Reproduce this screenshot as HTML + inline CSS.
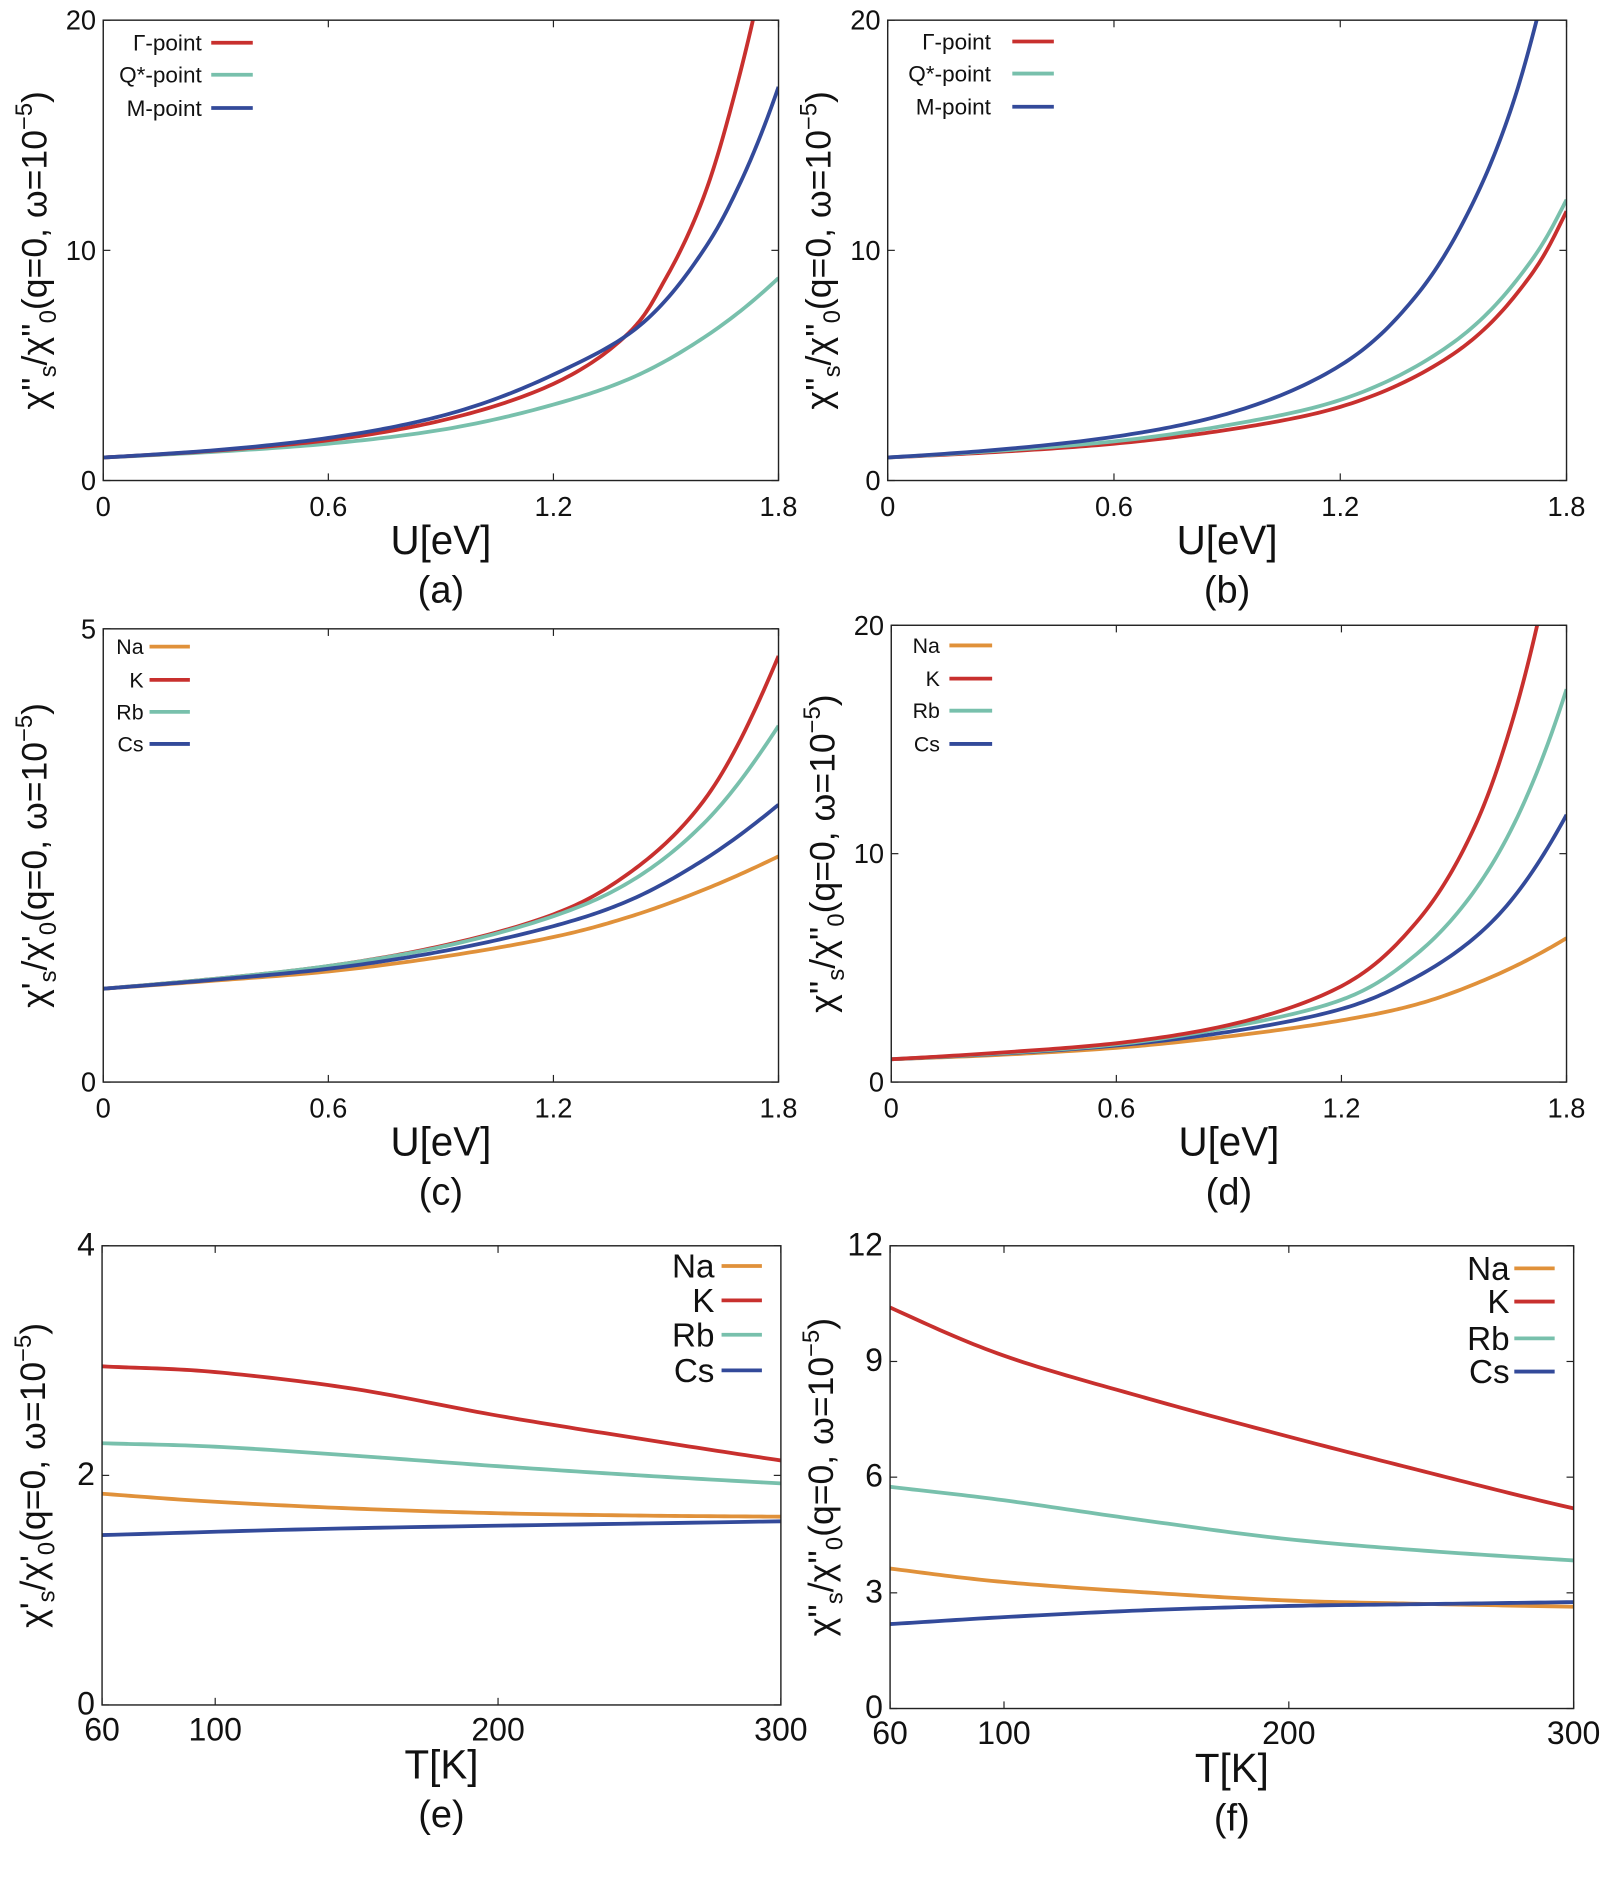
<!DOCTYPE html>
<html><head><meta charset="utf-8"><style>
html,body{margin:0;padding:0;background:#fff;}
svg{display:block;}
text{font-family:"Liberation Sans Narrow","Liberation Sans",sans-serif;fill:#111;}
</style></head><body>
<svg id="s" width="1614" height="1877" viewBox="0 0 1360 1582" preserveAspectRatio="none" xmlns="http://www.w3.org/2000/svg"></svg>
<script>
var S=document.getElementById('s'),NS='http://www.w3.org/2000/svg';
function el(t,a,txt){var e=document.createElementNS(NS,t);for(var k in a)e.setAttribute(k,a[k]);if(txt!==undefined)e.textContent=txt;S.appendChild(e);return e;}
var C={r:'#c8302e',g:'#78c0ac',b:'#334a9a',o:'#e0913a'};
function dense(p){var q=p.map(function(a){return [a[0],Math.log(a[1])]}),out=[];
 for(var i=0;i<q.length-1;i++){var p0=q[i-1]||[2*q[i][0]-q[i+1][0],2*q[i][1]-q[i+1][1]],p1=q[i],p2=q[i+1],p3=q[i+2]||[2*q[i+1][0]-q[i][0],2*q[i+1][1]-q[i][1]];
  for(var k=0;k<20;k++){var t=k/20,t2=t*t,t3=t2*t;
   var f=function(a,b,c,d){return 0.5*((2*b)+(-a+c)*t+(2*a-5*b+4*c-d)*t2+(-a+3*b-3*c+d)*t3)};
   out.push([f(p0[0],p1[0],p2[0],p3[0]),Math.exp(f(p0[1],p1[1],p2[1],p3[1]))]);}}
 out.push(p[p.length-1]);return out;}
function panel(P){
 var X=function(v){return P.x0+(v-P.xmin)/(P.xmax-P.xmin)*(P.x1-P.x0)},Y=function(v){return P.y1-(v-P.ymin)/(P.ymax-P.ymin)*(P.y1-P.y0)};
 var cp=document.createElementNS(NS,'clipPath');cp.setAttribute('id','c'+P.id);var r=document.createElementNS(NS,'rect');r.setAttribute('x',P.x0);r.setAttribute('y',P.y0);r.setAttribute('width',P.x1-P.x0);r.setAttribute('height',P.y1-P.y0);cp.appendChild(r);S.appendChild(cp);
 P.xt.forEach(function(v){var x=X(v);el('line',{x1:x,x2:x,y1:P.y1,y2:P.y1-6,stroke:'#222','stroke-width':1});el('line',{x1:x,x2:x,y1:P.y0,y2:P.y0+6,stroke:'#222','stroke-width':1});
  el('text',{x:x,y:P.y1+30,'font-size':P.tf,'text-anchor':'middle'},P.xl?P.xl(v):v);});
 P.yt.forEach(function(v){var y=Y(v);el('line',{x1:P.x0,x2:P.x0+6,y1:y,y2:y,stroke:'#222','stroke-width':1});el('line',{x1:P.x1,x2:P.x1-6,y1:y,y2:y,stroke:'#222','stroke-width':1});
  el('text',{x:P.x0-6,y:y+8,'font-size':P.tf,'text-anchor':'end'},v);});
 P.series.forEach(function(s){var pts=dense(s.p).map(function(q){return X(q[0]).toFixed(2)+','+Y(q[1]).toFixed(2)});
  el('polyline',{points:pts.join(' '),fill:'none',stroke:C[s.c],'stroke-width':3.2,'stroke-linejoin':'round','clip-path':'url(#c'+P.id+')'});});
 el('rect',{x:P.x0,y:P.y0,width:P.x1-P.x0,height:P.y1-P.y0,fill:'none',stroke:'#222','stroke-width':1.2});
 P.leg.forEach(function(l,i){var y=P.ly[i];el('text',{x:P.lx,y:y+P.lf*0.35,'font-size':P.lf,'text-anchor':'end'},l[0]);
  el('line',{x1:P.ll[0],x2:P.ll[1],y1:y,y2:y,stroke:C[l[1]],'stroke-width':3.2});});
 el('text',{x:(P.x0+P.x1)/2,y:P.y1+62,'font-size':34,'text-anchor':'middle'},P.xlab);
 el('text',{x:(P.x0+P.x1)/2,y:P.y1+103,'font-size':32,'text-anchor':'middle'},P.pl);
 var cy=(P.y0+P.y1)/2,lx=P.x0-48;
 var t=el('text',{x:0,y:0,'font-size':30,'text-anchor':'middle',transform:'translate('+lx+','+cy+') rotate(-90)'});
 t.innerHTML='χ<tspan font-size="30">'+P.pr+'</tspan><tspan font-size="20" dy="8">s</tspan><tspan dy="-8">/χ'+P.pr+'</tspan><tspan font-size="20" dy="8">0</tspan><tspan dy="-8">(q=0, ω=10</tspan><tspan font-size="20" dy="-12">−5</tspan><tspan dy="12">)</tspan>';
}
var U=[0,0.6,1.2,1.8],ul=function(v){return v===0?'0':v.toFixed(1)};
panel({id:'a',x0:87,x1:656,y0:17,y1:405,xmin:0,xmax:1.8,ymin:0,ymax:20,xt:U,xl:ul,yt:[0,10,20],tf:23,xlab:'U[eV]',pl:'(a)',pr:"''",
 series:[{c:'g',p:[[0,1],[0.3,1.25],[0.6,1.6],[0.9,2.2],[1.2,3.3],[1.4,4.4],[1.6,6.2],[1.8,8.8]]},
 {c:'r',p:[[0,1],[0.3,1.3],[0.6,1.75],[0.9,2.6],[1.2,4.2],[1.4,6.4],[1.5,8.8],[1.6,12.3],[1.68,16.6],[1.74,20.6]]},
 {c:'b',p:[[0,1],[0.3,1.32],[0.6,1.85],[0.9,2.8],[1.2,4.6],[1.42,6.6],[1.6,10],[1.7,13],[1.8,17.1]]}],
 leg:[['Γ-point','r'],['Q*-point','g'],['M-point','b']],lx:170,ly:[36,63,91],ll:[178,213],lf:19});
panel({id:'b',x0:748,x1:1320,y0:17,y1:405,xmin:0,xmax:1.8,ymin:0,ymax:20,xt:U,xl:ul,yt:[0,10,20],tf:23,xlab:'U[eV]',pl:'(b)',pr:"''",
 series:[{c:'r',p:[[0,1],[0.3,1.25],[0.6,1.6],[0.9,2.2],[1.2,3.2],[1.5,5.5],[1.7,8.8],[1.8,11.7]]},
 {c:'g',p:[[0,1],[0.3,1.3],[0.6,1.7],[0.9,2.4],[1.2,3.5],[1.5,6],[1.7,9.4],[1.8,12.2]]},
 {c:'b',p:[[0,1],[0.3,1.35],[0.6,1.9],[0.9,2.9],[1.2,5],[1.4,8],[1.55,12],[1.65,16],[1.73,20.6]]}],
 leg:[['Γ-point','r'],['Q*-point','g'],['M-point','b']],lx:835,ly:[35,62,90],ll:[853,888],lf:19});
panel({id:'c',x0:87,x1:656,y0:530,y1:912,xmin:0,xmax:1.8,ymin:0,ymax:5,xt:U,xl:ul,yt:[0,5],tf:23,xlab:'U[eV]',pl:'(c)',pr:"'",
 series:[{c:'o',p:[[0,1.03],[0.3,1.12],[0.6,1.22],[0.9,1.38],[1.2,1.6],[1.4,1.82],[1.6,2.12],[1.8,2.49]]},
 {c:'r',p:[[0,1.03],[0.3,1.14],[0.6,1.28],[0.9,1.5],[1.2,1.85],[1.4,2.3],[1.6,3.1],[1.8,4.7]]},
 {c:'g',p:[[0,1.03],[0.3,1.14],[0.6,1.28],[0.9,1.49],[1.2,1.83],[1.4,2.2],[1.6,2.85],[1.8,3.93]]},
 {c:'b',p:[[0,1.03],[0.3,1.13],[0.6,1.25],[0.9,1.44],[1.2,1.72],[1.4,2.0],[1.6,2.45],[1.8,3.06]]}],
 leg:[['Na','o'],['K','r'],['Rb','g'],['Cs','b']],lx:121,ly:[545,573,600,627],ll:[126,160],lf:18});
panel({id:'d',x0:751,x1:1320,y0:527,y1:912,xmin:0,xmax:1.8,ymin:0,ymax:20,xt:U,xl:ul,yt:[0,10,20],tf:23,xlab:'U[eV]',pl:'(d)',pr:"''",
 series:[{c:'o',p:[[0,1],[0.3,1.2],[0.6,1.5],[0.9,2],[1.2,2.7],[1.4,3.4],[1.6,4.6],[1.8,6.3]]},
 {c:'b',p:[[0,1],[0.3,1.25],[0.6,1.6],[0.9,2.2],[1.2,3.2],[1.4,4.6],[1.6,7],[1.8,11.7]]},
 {c:'g',p:[[0,1],[0.3,1.27],[0.6,1.65],[0.9,2.4],[1.2,3.6],[1.4,5.6],[1.6,9.5],[1.8,17.2]]},
 {c:'r',p:[[0,1],[0.3,1.3],[0.6,1.7],[0.9,2.5],[1.2,4.2],[1.4,7],[1.55,11],[1.65,15.5],[1.73,20.6]]}],
 leg:[['Na','o'],['K','r'],['Rb','g'],['Cs','b']],lx:792,ly:[544,572,599,627],ll:[800,836],lf:18});
var T=[60,100,200,300];
panel({id:'e',x0:86,x1:658,y0:1050,y1:1437,xmin:60,xmax:300,ymin:0,ymax:4,xt:T,yt:[0,2,4],tf:27,xlab:'T[K]',pl:'(e)',pr:"'",
 series:[{c:'r',p:[[60,2.95],[100,2.9],[150,2.75],[200,2.52],[250,2.32],[300,2.13]]},
 {c:'g',p:[[60,2.28],[100,2.25],[150,2.17],[200,2.08],[250,2.0],[300,1.93]]},
 {c:'o',p:[[60,1.84],[100,1.77],[150,1.71],[200,1.67],[250,1.65],[300,1.64]]},
 {c:'b',p:[[60,1.48],[150,1.54],[300,1.60]]}],
 leg:[['Na','o'],['K','r'],['Rb','g'],['Cs','b']],lx:602,ly:[1067,1096,1125,1155],ll:[608,642],lf:28});
panel({id:'f',x0:750,x1:1326,y0:1050,y1:1440,xmin:60,xmax:300,ymin:0,ymax:12,xt:T,yt:[0,3,6,9,12],tf:27,xlab:'T[K]',pl:'(f)',pr:"''",
 series:[{c:'r',p:[[60,10.4],[100,9.15],[150,8.05],[200,7.05],[250,6.1],[300,5.19]]},
 {c:'g',p:[[60,5.75],[100,5.4],[150,4.87],[200,4.39],[250,4.08],[300,3.84]]},
 {c:'o',p:[[60,3.63],[100,3.28],[150,3.01],[200,2.8],[250,2.71],[300,2.64]]},
 {c:'b',p:[[60,2.19],[100,2.37],[150,2.55],[200,2.66],[250,2.71],[300,2.76]]}],
 leg:[['Na','o'],['K','r'],['Rb','g'],['Cs','b']],lx:1272,ly:[1069,1097,1128,1156],ll:[1276,1310],lf:28});
</script>
</body></html>
